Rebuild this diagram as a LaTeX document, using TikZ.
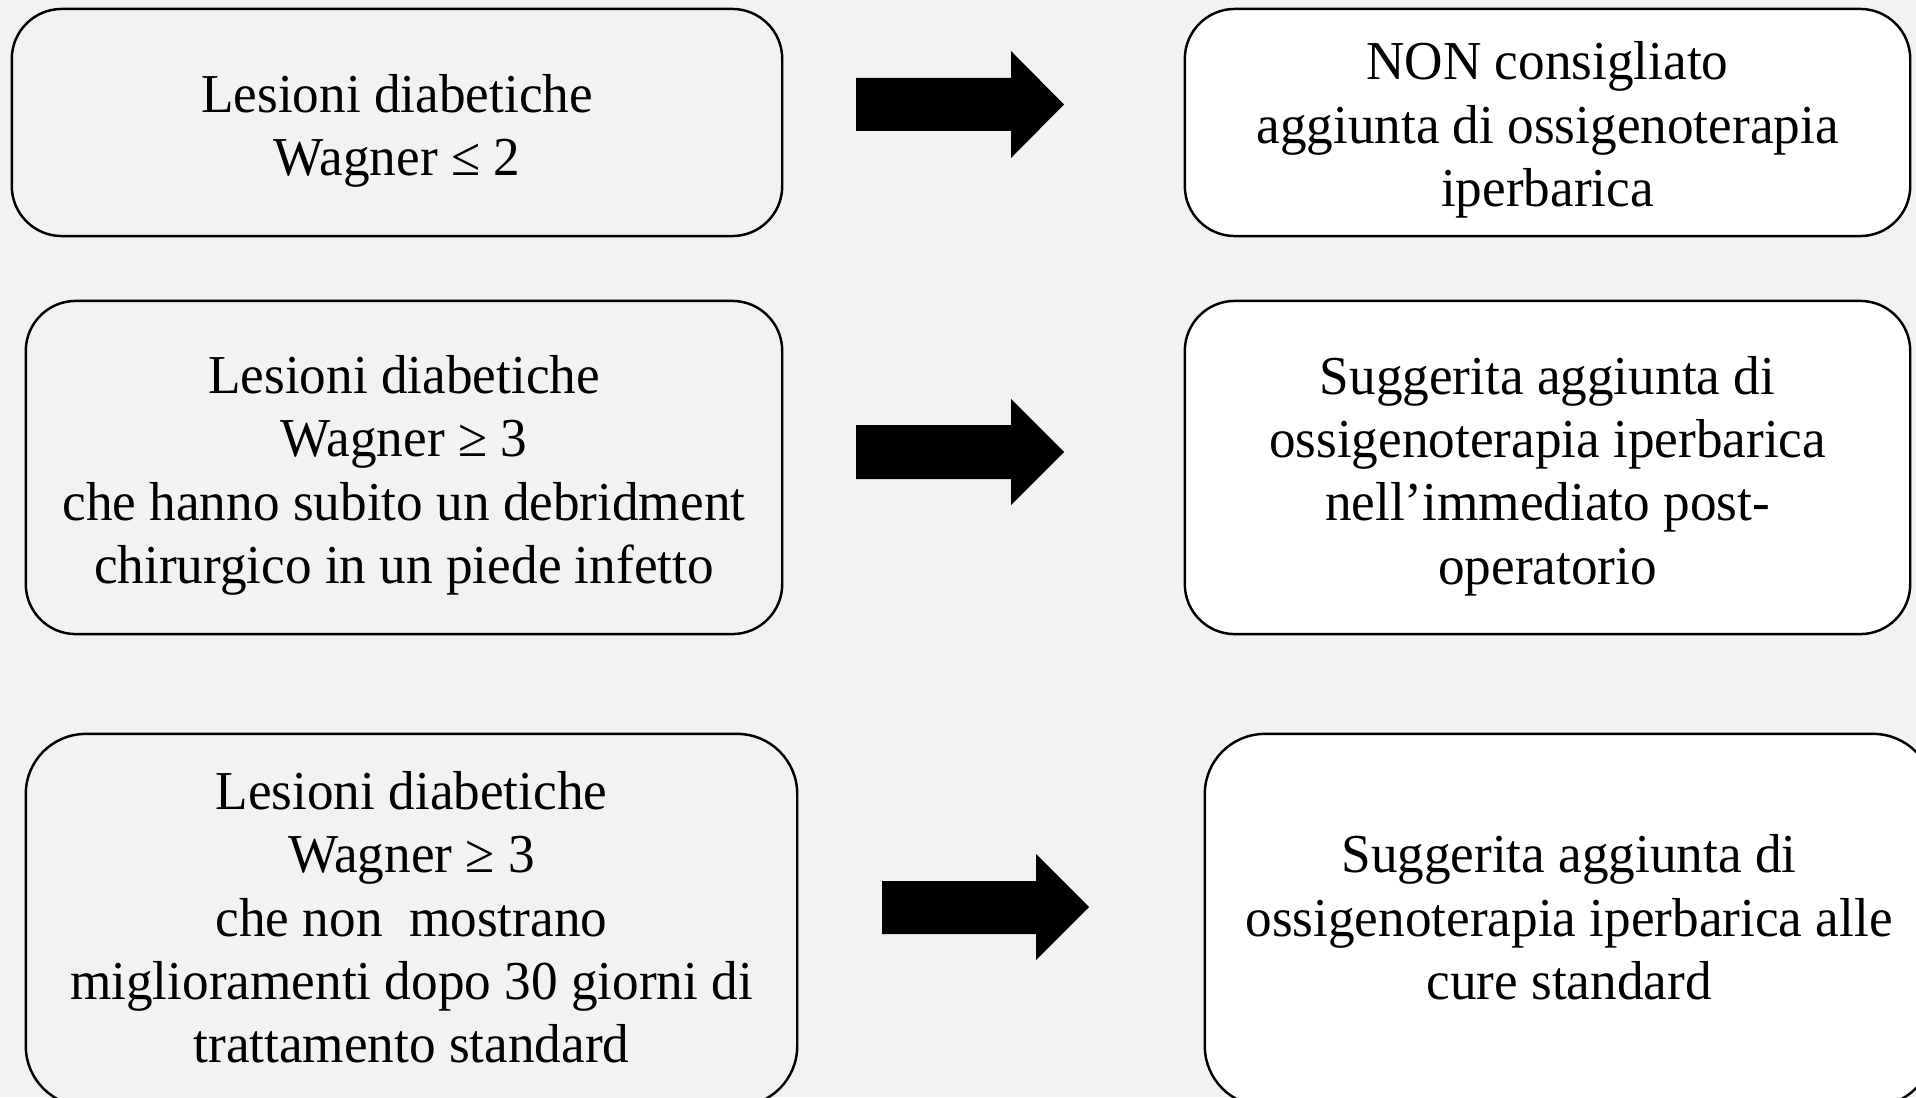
\documentclass[tikz,border=0pt]{standalone}
\usepackage{fontspec}
\setmainfont{Liberation Serif}[FakeStretch=0.97]
\definecolor{bggray}{HTML}{F2F2F2}
\tikzset{
  box/.style={draw=black, line width=0.7pt, rounded corners=0.5cm, inner sep=0pt},
  leftbox/.style={box, fill=bggray},
  rightbox/.style={box, fill=white},
  txt/.style={align=center, inner sep=0pt, font=\fontsize{15.6}{18}\selectfont},
  blockarrow/.style={fill=black, draw=none}
}
\begin{document}
\begin{tikzpicture}[x=0.01cm, y=-0.01cm]
\useasboundingbox (0,0) rectangle (1916,1097);
\fill[bggray] (0,0) rectangle (1916,1097);

\node[leftbox, minimum width=7.70cm, minimum height=2.27cm] (l1) at (397,122.5) {};
\node[txt] (l1t) at ([yshift=-0.085cm]l1.center) {Lesioni diabetiche\\Wagner ≤ 2};
\node[rightbox, minimum width=7.25cm, minimum height=2.27cm] (r1) at (1547.5,122.5) {};
\node[txt] (r1t) at ([yshift=-0.075cm]r1.center) {NON consigliato\\aggiunta di ossigenoterapia\\iperbarica};

\node[leftbox, minimum width=7.56cm, minimum height=3.33cm] (l2) at (404,467.5) {};
\node[txt] (l2t) at ([yshift=-0.08cm]l2.center) {Lesioni diabetiche\\Wagner ≥ 3\\che hanno subito un debridment\\chirurgico in un piede infetto};
\node[rightbox, minimum width=7.25cm, minimum height=3.33cm] (r2) at (1547.5,467.5) {};
\node[txt] (r2t) at ([yshift=-0.085cm]r2.center) {Suggerita aggiunta di\\ossigenoterapia iperbarica\\nell’immediato post-\\operatorio};

\node[leftbox, rounded corners=0.6cm, minimum width=7.71cm, minimum height=3.72cm] (l3) at (411.5,920) {};
\node[txt] (l3t) at ([yshift=0.025cm]l3.center) {Lesioni diabetiche\\Wagner ≥ 3\\che non\ \ mostrano\\miglioramenti dopo 30 giorni di\\trattamento standard};
\node[rightbox, rounded corners=0.6cm, minimum width=7.28cm, minimum height=3.72cm] (r3) at (1569,920) {};
\node[txt] (r3t) at ([yshift=0.025cm]r3.center) {Suggerita aggiunta di\\ossigenoterapia iperbarica alle\\cure standard};

% block arrows
\fill[blockarrow] (856,78) -- (1011,78) -- (1011,51) -- (1064,104.5) -- (1011,158) -- (1011,131) -- (856,131) -- cycle;
\fill[blockarrow] (856,425) -- (1011,425) -- (1011,399) -- (1064,452) -- (1011,505) -- (1011,479) -- (856,479) -- cycle;
\fill[blockarrow] (882,881) -- (1036,881) -- (1036,854) -- (1089,907) -- (1036,960) -- (1036,934) -- (882,934) -- cycle;
\end{tikzpicture}
\end{document}
